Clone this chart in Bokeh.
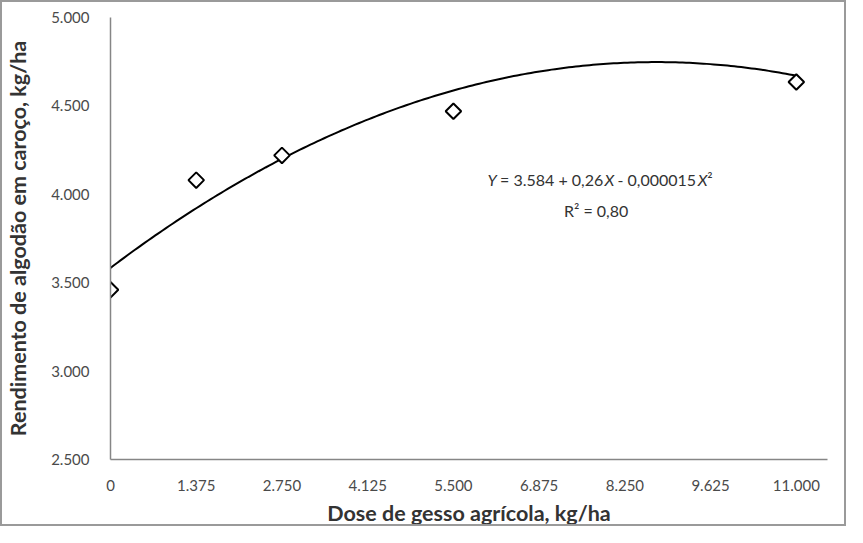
import numpy as np
from bokeh.plotting import figure
from bokeh.models import Range1d, FixedTicker
from bokeh.embed import file_html
from bokeh.resources import INLINE
from bokeh.core.properties import value

# ---- data ----
dose = [0, 1375, 2750, 5500, 11000]
rendimento = [3460, 4080, 4220, 4470, 4635]
x_ticks = [0, 1375, 2750, 4125, 5500, 6875, 8250, 9625, 11000]
x_tick_labels = ["0", "1.375", "2.750", "4.125", "5.500", "6.875", "8.250", "9.625", "11.000"]
y_ticks = [2500, 3000, 3500, 4000, 4500, 5000]
y_tick_labels = ["2.500", "3.000", "3.500", "4.000", "4.500", "5.000"]
# quadratic trendline as drawn in the reference (Y = a + bX + cX^2)
trend_a, trend_b, trend_c = 3584, 0.266, -0.0000152

FONT = "Lato"
X_MAX = 11500
FRAME_W, FRAME_H = 725, 445

p = figure(width=846, height=526,
           x_range=Range1d(0, X_MAX), y_range=Range1d(2500, 5000),
           output_backend="svg", toolbar_location=None,
           min_border_left=100, min_border_right=21,
           min_border_top=15, min_border_bottom=66)
p.styles = {"border": "2px solid #9a9a9a"}
p.outline_line_color = None
p.xgrid.visible = False
p.ygrid.visible = False

for ax in (p.xaxis, p.yaxis):
    ax.axis_line_color = "#868686"
    ax.axis_line_width = 1.5
    ax.major_tick_line_color = None
    ax.minor_tick_line_color = None
    ax.major_label_text_font = FONT
    ax.major_label_text_font_size = "15px"
    ax.major_label_text_color = "#4a4a4a"
    ax.axis_label_text_font = FONT
    ax.axis_label_text_font_style = "bold"
    ax.axis_label_text_font_size = "21.5px"
    ax.axis_label_text_color = "#333333"

p.xaxis.ticker = FixedTicker(ticks=x_ticks)
p.xaxis.major_label_overrides = {t: s for t, s in zip(x_ticks, x_tick_labels)}
p.yaxis.ticker = FixedTicker(ticks=y_ticks)
p.yaxis.major_label_overrides = {t: s for t, s in zip(y_ticks, y_tick_labels)}
p.xaxis.major_label_standoff = 14
p.yaxis.major_label_standoff = 15
p.xaxis.axis_label = "Dose de gesso agrícola, kg/ha"
p.yaxis.axis_label = "Rendimento de algodão em caroço, kg/ha"
p.xaxis.axis_label_standoff = 6
p.yaxis.axis_label_standoff = 17

# trendline
xs = np.linspace(0, max(dose), 200)
ys = trend_a + trend_b * xs + trend_c * xs ** 2
p.line(xs, ys, line_color="black", line_width=2)

# data markers (diamonds)
p.scatter(dose, rendimento, marker="square", size=11, angle=np.pi / 4,
          fill_color="white", line_color="black", line_width=2)

# equation text, assembled from pieces (italic Y and X)
EQ_SIZE = 16
W = {'.': 0.24, ',': 0.24, ' ': 0.22, '=': 0.6, '+': 0.6, '-': 0.36,
     'Y': 0.64, 'X': 0.66, '²': 0.4, 'R': 0.63}
def width_px(s):
    return sum(W.get(ch, 0.6) for ch in s) * EQ_SIZE

px_to_x = X_MAX / FRAME_W
def py_to_y(py):  # py measured from frame top
    return 5000 - py * 2500 / FRAME_H

eq_pieces = [("Y", True), (" = 3.584 + 0,26", False), ("X", True),
             (" - 0,000015", False), ("X", True), ("²", False)]
eq_center_px = 495
total = sum(width_px(t) for t, _ in eq_pieces)
cur = eq_center_px - total / 2
eq_y = py_to_y(163)
norm_x, norm_t, ital_x, ital_t = [], [], [], []
for t, it in eq_pieces:
    lead = len(t) - len(t.lstrip(" "))
    start = cur + width_px(" " * lead)
    if it:
        ital_x.append((start + 1) * px_to_x); ital_t.append(t.strip())
    else:
        norm_x.append(start * px_to_x); norm_t.append(t.strip())
    cur += width_px(t)

common = dict(text_font=value(FONT), text_font_size=value(f"{EQ_SIZE}px"),
              text_color="#333333", text_baseline="middle", text_align="left")
p.text(x=norm_x, y=[eq_y] * len(norm_x), text=norm_t, **common)
p.text(x=ital_x, y=[eq_y] * len(ital_x), text=ital_t, text_font_style="italic", **common)
r2_text = "R² = 0,80"
p.text(x=[491 * px_to_x], y=[py_to_y(194)], text=[r2_text],
       text_font=value(FONT), text_font_size=value(f"{EQ_SIZE}px"),
       text_color="#333333", text_baseline="middle", text_align="center")

open("out.html", "w").write(file_html(p, INLINE))
